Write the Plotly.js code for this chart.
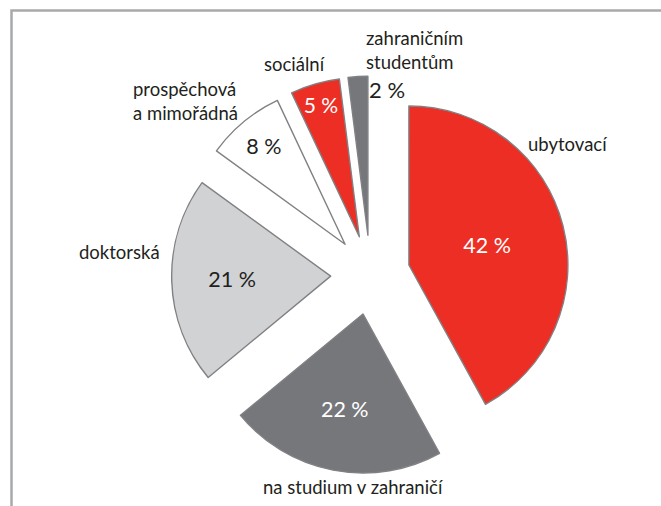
<!DOCTYPE html>
<html>
<head>
<meta charset="utf-8">
<script src="https://cdn.plot.ly/plotly-3.0.1.min.js"></script>
<style>
  html, body { margin: 0; padding: 0; background: #ffffff; }
  #chart { width: 661px; height: 506px; }
</style>
</head>
<body>
<div id="chart"></div>
<script>
// ---- data ----
var categories = ['ubytovací', 'na studium v zahraničí', 'doktorská', 'prospěchová a mimořádná', 'sociální', 'zahraničním studentům'];
var labelTexts = ['ubytovací', 'na studium v zahraničí', 'doktorská', 'prospěchová<br>a mimořádná', 'sociální', 'zahraničním<br>studentům'];
var shares = [42, 22, 21, 8, 5, 2];
var sliceColors = ['#ec2e24', '#76777b', '#d1d2d4', '#ffffff', '#ec2e24', '#76777b'];
var pctColors = ['#ffffff', '#ffffff', '#231f20', '#231f20', '#ffffff', '#231f20'];

var W = 661, H = 506;
function px(x) { return x / W; }
function py(y) { return 1 - y / H; }

// pie geometry (pixel box of the domain)
var cx = 370.4, cy = 274.9, half = 198.75;

var trace = {
  type: 'pie',
  labels: categories,
  values: shares,
  sort: false,
  direction: 'clockwise',
  rotation: 0,
  pull: 0.25,
  marker: { colors: sliceColors, line: { color: '#808184', width: 1.4 } },
  texttemplate: '%{value} %',
  textposition: ['inside', 'inside', 'inside', 'inside', 'inside', 'none'],
  insidetextorientation: 'horizontal',
  insidetextfont: { family: 'Lato, sans-serif', size: 21.5, color: pctColors },
  hoverinfo: 'none',
  domain: {
    x: [px(cx - half), px(cx + half)],
    y: [py(cy + half), py(cy - half)]
  }
};

var labFont = { family: 'Lato, sans-serif', size: 18.5, color: '#231f20' };
var labelPos = [
  { x: 567, y: 144, xa: 'center', al: 'center' },
  { x: 353, y: 487, xa: 'center', al: 'center' },
  { x: 119, y: 252, xa: 'center', al: 'center' },
  { x: 131, y: 101, xa: 'left', al: 'left' },
  { x: 294, y: 64, xa: 'center', al: 'center' },
  { x: 364, y: 50, xa: 'left', al: 'left' }
];
var annotations = labelTexts.map(function (t, i) {
  return {
    xref: 'paper', yref: 'paper', x: px(labelPos[i].x), y: py(labelPos[i].y),
    xanchor: labelPos[i].xa, yanchor: 'middle', align: labelPos[i].al,
    text: t, showarrow: false, font: labFont
  };
});
// percentage of the smallest slice, drawn beside it
annotations.push({
  xref: 'paper', yref: 'paper', x: px(367), y: py(90),
  xanchor: 'left', yanchor: 'middle',
  text: shares[5] + ' %', showarrow: false,
  font: { family: 'Lato, sans-serif', size: 22, color: '#231f20' }
});

var layout = {
  width: W, height: H,
  margin: { l: 0, r: 0, t: 0, b: 0 },
  paper_bgcolor: '#ffffff',
  showlegend: false,
  annotations: annotations,
  shapes: [{
    type: 'rect', xref: 'paper', yref: 'paper',
    x0: px(11.5), x1: 1.2, y0: -0.2, y1: py(10.5),
    line: { color: '#a7a9ac', width: 2.5 }, fillcolor: 'rgba(0,0,0,0)'
  }]
};

Plotly.newPlot('chart', [trace], layout, { staticPlot: true, displayModeBar: false });
</script>
</body>
</html>
